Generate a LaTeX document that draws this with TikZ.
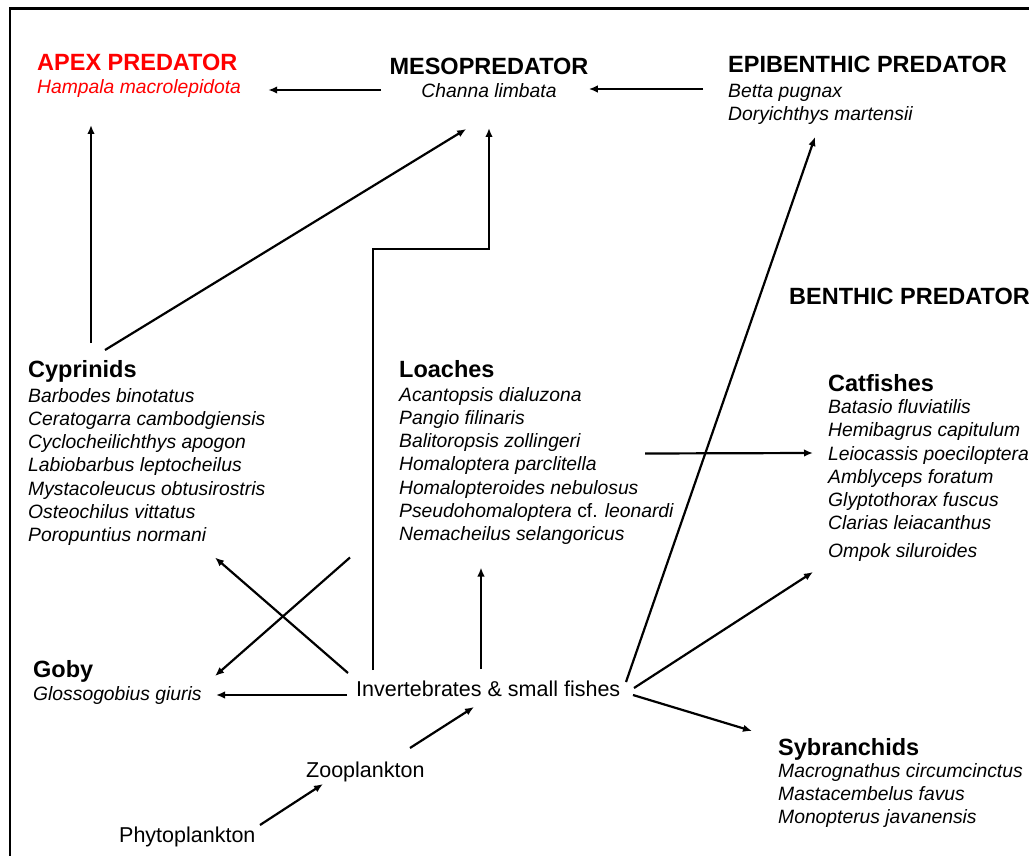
\documentclass[tikz,border=0pt]{standalone}
\usepackage{fontspec}
\setmainfont{Liberation Sans}
\usetikzlibrary{arrows.meta}
\definecolor{apexred}{RGB}{255,0,0}

\begin{document}
\begin{tikzpicture}[x=1pt, y=-1pt,
    head/.style={anchor=base west, inner sep=0pt, font=\bfseries\fontsize{23.5}{27}\selectfont},
    species/.style={anchor=base west, inner sep=0pt, align=left, font=\itshape\fontsize{19.3}{23.25}\selectfont},
    foodtext/.style={anchor=base west, inner sep=0pt, font=\fontsize{21.5}{25}\selectfont},
    arrow/.style={-{Latex[length=9pt,width=7.5pt]}, line width=2.2pt}
]
\useasboundingbox (0,0) rectangle (1029,856);
\draw[line width=2.6pt] (1029,8.7) -- (10,8.7) -- (10,856);

% predators (species lists sit on their last line)
\node[head, text=apexred] (apex) at (37,71) {APEX PREDATOR};
\node[species, text=apexred] (apexsp) at (37,94) {Hampala macrolepidota};
\node[head, anchor=base] (meso) at (489,75) {MESOPREDATOR};
\node[species, anchor=base] (mesosp) at (489,98) {Channa limbata};
\node[head] (epi) at (728,73) {EPIBENTHIC PREDATOR};
\node[species] (episp) at (728,121) {Betta pugnax\\Doryichthys martensii};
\node[head] (benthic) at (789,304) {BENTHIC PREDATOR};

% fish groups
\node[head] (cyp) at (28,377) {Cyprinids};
\node[species] (cypsp) at (28,541.5) {Barbodes binotatus\\Ceratogarra cambodgiensis\\Cyclocheilichthys apogon\\Labiobarbus leptocheilus\\Mystacoleucus obtusirostris\\Osteochilus vittatus\\Poropuntius normani};
\node[head] (loach) at (399,377) {Loaches};
\node[species] (loachsp) at (399,540.5) {Acantopsis dialuzona\\Pangio filinaris\\Balitoropsis zollingeri\\Homaloptera parclitella\\Homalopteroides nebulosus\\Pseudohomaloptera \textup{cf.} leonardi\\Nemacheilus selangoricus};
\node[head] (cat) at (828,391) {Catfishes};
\node[species] (catsp) at (828,557) {Batasio fluviatilis\\Hemibagrus capitulum\\Leiocassis poeciloptera\\Amblyceps foratum\\Glyptothorax fuscus\\Clarias leiacanthus\\[4pt]Ompok siluroides};
\node[head] (goby) at (33,677) {Goby};
\node[species] (gobysp) at (33,700) {Glossogobius giuris};
\node[head] (syb) at (778,755) {Sybranchids};
\node[species] (sybsp) at (778,823.5) {Macrognathus circumcinctus\\Mastacembelus favus\\Monopterus javanensis};

% base of the web
\node[foodtext] (inv) at (356,696) {Invertebrates \& small fishes};
\node[foodtext] (zoo) at (306,777) {Zooplankton};
\node[foodtext] (phyto) at (119,842) {Phytoplankton};

% feeding links
\draw[arrow] ([shift={(-40,-8)}]mesosp.base west) -- ([shift={(27,-4)}]apexsp.base east);
\draw[arrow] ([shift={(-25,-32)}]episp.base west) -- ([shift={(32,-9)}]mesosp.base east);
\draw[arrow] ([shift={(63,-34)}]cyp.base west) -- ([shift={(54,31)}]apexsp.base west);
\draw[arrow] ([shift={(77,-27)}]cyp.base west) -- ([shift={(45,31)}]mesosp.base west);
\draw[arrow] ([shift={(17,-26)}]inv.base west) |- ([shift={(0,151)}]mesosp.base) -- ([shift={(0,30)}]mesosp.base);
\draw[arrow] ([shift={(-8,-23)}]inv.base west) -- ([shift={(187,16)}]cypsp.base west);
\draw[arrow] ([shift={(-49,17)}]loachsp.base west) -- ([shift={(182,-24)}]gobysp.base west);
\draw[arrow] ([shift={(-9,-1)}]inv.base west) -- ([shift={(183,-5)}]gobysp.base west);
\draw[arrow] ([shift={(125,-27)}]inv.base west) -- ([shift={(82,27)}]loachsp.base west);
\draw[arrow] ([shift={(104,-29)}]zoo.base west) -- ([shift={(118,11)}]inv.base west);
\draw[arrow] ([shift={(141,-17)}]phyto.base west) -- ([shift={(17,7)}]zoo.base west);
\draw[arrow] ([shift={(270,-14)}]inv.base west) -- ([shift={(87,16)}]episp.base west);
\draw[arrow] ([shift={(246,-87)}]loachsp.base west) -- ([shift={(-15,-104)}]catsp.base west);
\draw[arrow] ([shift={(278,-8)}]inv.base west) -- ([shift={(-15,15)}]catsp.base west);
\draw[arrow] ([shift={(277,-1)}]inv.base west) -- ([shift={(-26,-24)}]syb.base west);
\end{tikzpicture}
\end{document}
